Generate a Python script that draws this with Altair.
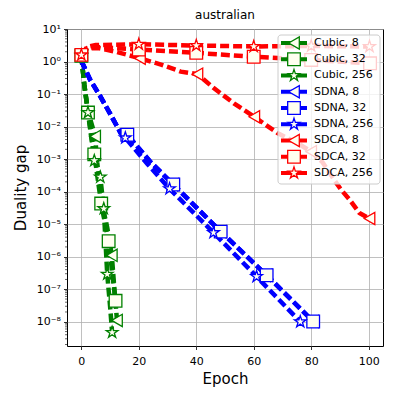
import altair as alt
import pandas as pd

# ---------------- data ----------------
title_text = "australian"
names = ["Cubic, 8", "Cubic, 32", "Cubic, 256",
         "SDNA, 8", "SDNA, 32", "SDNA, 256",
         "SDCA, 8", "SDCA, 32", "SDCA, 256"]
colors = ["#008000"] * 3 + ["#0000ff"] * 3 + ["#ff0000"] * 3

STAR = ("M0,-1L0.2245,-0.309L0.9511,-0.309L0.3633,0.118L0.5878,0.809L0,0.382"
        "L-0.5878,0.809L-0.3633,0.118L-0.9511,-0.309L-0.2245,-0.309Z")
shapes = ["triangle-left", "square", STAR] * 3

cubic8_x = [0, 1, 2.3, 4.8, 5.5, 7, 9, 10.6, 11.5, 12.4]
cubic8_y = [1.5, 0.2, 0.03, 0.005, 8e-4, 5e-5, 8e-6, 1.1e-6, 1e-7, 1.1e-8]
cubic8_m = [0, 3, 7, 9]

cubic32_x = [0, 1, 2.3, 4.5, 6.9, 8.5, 9.5, 11, 11.9]
cubic32_y = [1.5, 0.2, 0.027, 1.4e-3, 4.3e-5, 8e-6, 3e-6, 2e-7, 4.4e-8]
cubic32_m = [0, 2, 3, 4, 6, 8]

cubic256_x = [0, 1, 2.3, 4.5, 6.6, 7.8, 9, 10, 10.7]
cubic256_y = [1.5, 0.2, 0.027, 9e-4, 2.8e-4, 3e-5, 2.9e-7, 3e-8, 4.7e-9]
cubic256_m = [0, 2, 3, 4, 5, 6, 8]

sdna32_x = [0, 3, 6.6, 10, 13.6, 16, 24, 32, 48.5, 64.5, 80.7]
sdna32_y = [1.05, 0.28, 0.085, 0.025, 6.5e-3, 5.6e-3, 8.3e-4, 1.66e-4, 5.9e-6, 2.7e-7, 1.02e-8]
sdna32_m = [5, 7, 8, 9, 10]

sdna8_x = sdna32_x
sdna8_y = sdna32_y
sdna8_m = sdna32_m

sdna256_x = [0, 3, 6.6, 10, 13.6, 15.3, 23, 30.7, 46, 61, 76.2]
sdna256_y = [1.05, 0.28, 0.085, 0.025, 6.5e-3, 4.5e-3, 7.1e-4, 1.23e-4, 5.5e-6, 2.45e-7, 1.0e-8]
sdna256_m = [5, 7, 8, 9, 10]

sdca8_x = [0, 2, 6, 12, 20.4, 28, 34.6, 40.4, 46.2, 53.1, 60.2, 68.3, 75, 80, 84, 88, 90.4, 93.3, 96.8, 100.3]
sdca8_y = [1.6, 2.5, 2.6, 2.0, 1.26, 0.79, 0.49, 0.41, 0.15, 0.052, 0.02, 6.3e-3, 3.2e-3,
           1.7e-3, 7.9e-4, 2.3e-4, 1.15e-4, 5.8e-5, 2.2e-5, 1.5e-5]
sdca8_m = [0, 4, 7, 10, 13, 19]

sdca32_x = [0, 2, 5, 20, 40, 60, 80, 100.5]
sdca32_y = [1.6, 2.6, 2.8, 2.35, 1.85, 1.4, 1.12, 0.88]
sdca32_m = [0, 3, 4, 5, 6, 7]

sdca256_x = [0, 2, 5, 20, 40, 60, 80, 100.3]
sdca256_y = [1.6, 2.8, 3.2, 3.4, 3.1, 2.9, 3.0, 2.9]
sdca256_m = [0, 3, 4, 5, 6, 7]

all_x = [cubic8_x, cubic32_x, cubic256_x, sdna8_x, sdna32_x, sdna256_x, sdca8_x, sdca32_x, sdca256_x]
all_y = [cubic8_y, cubic32_y, cubic256_y, sdna8_y, sdna32_y, sdna256_y, sdca8_y, sdca32_y, sdca256_y]
all_m = [cubic8_m, cubic32_m, cubic256_m, sdna8_m, sdna32_m, sdna256_m, sdca8_m, sdca32_m, sdca256_m]

x_ticks = [0, 20, 40, 60, 80, 100]
y_ticks = [1e-8, 1e-7, 1e-6, 1e-5, 1e-4, 1e-3, 1e-2, 1e-1, 1e0, 1e1]
y_labels = ["10⁻⁸", "10⁻⁷", "10⁻⁶", "10⁻⁵", "10⁻⁴", "10⁻³", "10⁻²", "10⁻¹", "10⁰", "10¹"]

FONT = "DejaVu Sans"
MARKER_FILL = "#fffff0"
sizes = [150, 160, 150] * 3

W, H = 316, 317
YMIN, YMAX = 1.8e-9, 10.0

# ---------------- tables ----------------
line_rows, mark_rows = [], []
for k, name in enumerate(names):
    xs, ys = all_x[k], all_y[k]
    for i, (x, y) in enumerate(zip(xs, ys)):
        line_rows.append(dict(series=name, k=k, idx=i, x=x, y=y, color=colors[k]))
    for i in all_m[k]:
        mark_rows.append(dict(series=name, k=k, x=xs[i], y=ys[i], color=colors[k],
                              shape=shapes[k], size=sizes[k]))
lines_df = pd.DataFrame(line_rows)
marks_df = pd.DataFrame(mark_rows)

minor_vals = []
for e in range(-9, 1):
    for m in range(2, 10):
        v = m * 10.0 ** e
        if YMIN <= v <= YMAX:
            minor_vals.append(v)
minor_df = pd.DataFrame({"v": minor_vals})

legend_df = pd.DataFrame({
    "label": names, "color": colors, "shape": shapes,
    "size": sizes, "row": list(range(len(names)))})

# ---------------- scales / axes ----------------
xscale = alt.Scale(domain=[-5, 105], nice=False, zero=False)
yscale = alt.Scale(type="log", domain=[YMIN, YMAX], nice=False)

label_expr = "[" + ",".join("'" + s + "'" for s in y_labels) + "][round(log(datum.value)/LN10)+8]"

xaxis = alt.Axis(values=x_ticks, title="Epoch", grid=True, tickSize=3.5, labelFontSize=11,
                 titleFontSize=15, titleFontWeight="normal", labelPadding=6, titlePadding=5,
                 domain=False, labelFlush=False)
yaxis = alt.Axis(values=y_ticks, labelExpr=label_expr, title="Duality gap", grid=True,
                 tickSize=3.5, labelFontSize=11, titleFontSize=15, titleFontWeight="normal",
                 labelPadding=3, titlePadding=8, domain=False, labelFlush=False)

minor = alt.Chart(minor_df).mark_rule(color="black", strokeWidth=0.6).encode(
    y=alt.Y("v:Q", scale=yscale, axis=yaxis),
    x=alt.value(-2),
    x2=alt.value(0),
)

lines = alt.Chart(lines_df).mark_line(strokeDash=[9, 4], strokeWidth=4.5).encode(
    x=alt.X("x:Q", scale=xscale, axis=xaxis),
    y=alt.Y("y:Q", scale=yscale, axis=yaxis),
    color=alt.Color("color:N", scale=None),
    detail="k:N",
    order="idx:Q",
)

points = alt.Chart(marks_df).mark_point(filled=True, fill=MARKER_FILL, strokeWidth=1.3, opacity=1).encode(
    x=alt.X("x:Q", scale=xscale, axis=xaxis),
    y=alt.Y("y:Q", scale=yscale, axis=yaxis),
    stroke=alt.Stroke("color:N", scale=None),
    shape=alt.Shape("shape:N", scale=None),
    size=alt.Size("size:Q", scale=None),
    order="k:Q",
)

# ---------------- legend (rows placed in pixel space, mapped through the log scale) ----------------
LOG_SPAN = 1.0 - (-8.7447)
row_px0, row_dy = 14.0, 16.25
ly_expr = f"pow(10, 1 - ({row_px0} + datum.row*{row_dy})/{H}*{LOG_SPAN})"

box = alt.Chart(pd.DataFrame({"a": [0]})).mark_rect(
    fill="white", fillOpacity=0.8, stroke="#cccccc", strokeWidth=1, cornerRadius=3
).encode(x=alt.value(211), x2=alt.value(313), y=alt.value(6), y2=alt.value(155))

leg_base = alt.Chart(legend_df).transform_calculate(ly=ly_expr)

leg_lines = leg_base.mark_rule(strokeWidth=4).encode(
    x=alt.value(214), x2=alt.value(240),
    y=alt.Y("ly:Q", scale=yscale, axis=yaxis),
    color=alt.Color("color:N", scale=None),
)
leg_points = leg_base.mark_point(filled=True, fill=MARKER_FILL, strokeWidth=1.3, opacity=1).encode(
    x=alt.value(227),
    y=alt.Y("ly:Q", scale=yscale, axis=yaxis),
    stroke=alt.Stroke("color:N", scale=None),
    shape=alt.Shape("shape:N", scale=None),
    size=alt.Size("size:Q", scale=None),
)
leg_text = leg_base.mark_text(align="left", baseline="middle", fontSize=11, font=FONT, color="black").encode(
    x=alt.value(247),
    y=alt.Y("ly:Q", scale=yscale, axis=yaxis),
    text="label:N",
)

title_mark = alt.Chart(pd.DataFrame({"t": [title_text]})).mark_text(
    align="center", baseline="middle", fontSize=12, font=FONT, color="black"
).encode(x=alt.value(W / 2), y=alt.value(-14), text="t:N")

chart = alt.layer(minor, lines, points, box, leg_lines, leg_points, leg_text, title_mark).properties(
    width=W, height=H,
    autosize=alt.AutoSizeParams(type="none"),
    padding={"left": 59, "top": 21, "right": 8, "bottom": 45},
).configure_axis(
    labelFont=FONT, titleFont=FONT, gridColor="#b0b0b0", gridWidth=0.8,
    tickColor="black", labelColor="black", titleColor="black", tickWidth=0.8,
).configure_view(stroke="black", strokeWidth=1)

chart.save("out.html", embed_options={"renderer": "svg", "actions": False})
